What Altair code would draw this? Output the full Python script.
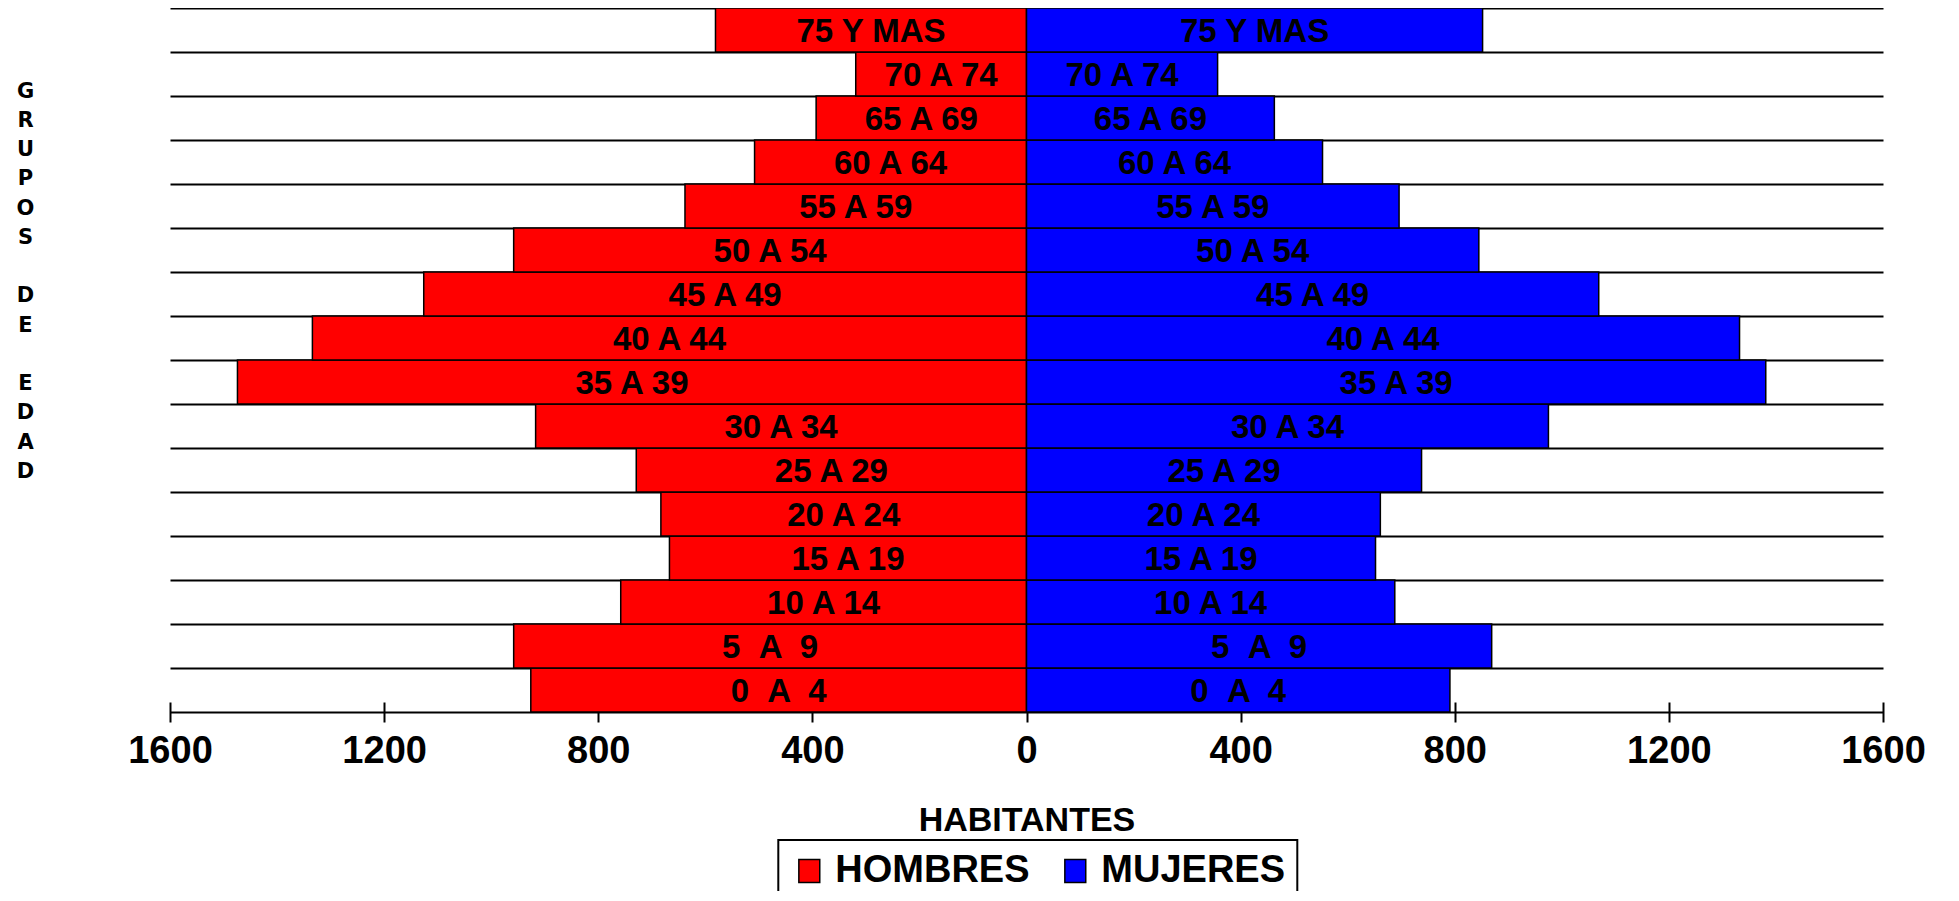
import altair as alt
import pandas as pd

# Age groups, bottom to top
grupos = ["0  A  4", "5  A  9", "10 A 14", "15 A 19", "20 A 24", "25 A 29",
          "30 A 34", "35 A 39", "40 A 44", "45 A 49", "50 A 54", "55 A 59",
          "60 A 64", "65 A 69", "70 A 74", "75 Y MAS"]
hombres = [926, 958, 758, 667, 683, 729, 917, 1474, 1334, 1126, 958, 638, 508, 393, 319, 581]
mujeres = [791, 869, 688, 652, 661, 738, 975, 1381, 1332, 1069, 845, 696, 553, 463, 357, 852]
sexos = ["HOMBRES", "MUJERES"]
colores = ["#FF0000", "#0000FF"]
ticks_x = [-1600, -1200, -800, -400, 0, 400, 800, 1200, 1600]
# vertical axis title, one letter per line (blank lines between words)
titulo_y = ["G", "R", "U", "P", "O", "S", "\u2800", "D", "E", "\u2800", "E", "D", "A", "D"]

rows = []
for i, g in enumerate(grupos):
    label = g.replace("  ", " \u00a0")
    rows.append({"grupo": label, "sexo": sexos[0], "valor": -hombres[i], "i0": i, "i1": i + 1})
    rows.append({"grupo": label, "sexo": sexos[1], "valor": mujeres[i], "i0": i, "i1": i + 1})
df = pd.DataFrame(rows)

FONT = "Liberation Sans"
W, H = 1713, 704

xaxis = alt.Axis(
    values=ticks_x, labelExpr="format(abs(datum.value), 'd')",
    labelFont=FONT, labelFontSize=38, labelFontWeight="bold", labelColor="black",
    labelFlush=False, labelOverlap=False, labelPadding=10,
    tickSize=20, tickColor="black", tickWidth=2, offset=-10,
    domain=False, grid=False,
    title="HABITANTES", titleFont=FONT, titleFontSize=34, titleFontWeight="bold",
    titleColor="black", titleX=W / 2, titleY=118, titleAlign="center",
    titleBaseline="middle",
)
yaxis = alt.Axis(
    values=list(range(len(grupos) + 1)), grid=True, gridColor="black", gridWidth=2,
    gridOpacity=1, labels=False, ticks=False, domain=False,
    title=titulo_y, titleAngle=0, titleFont="DejaVu Sans", titleFontSize=21,
    titleFontWeight="bold", titleColor="black", titleLineHeight=29.26,
    titleX=-145, titleY=72, titleAlign="center", titleBaseline="top",
)
xscale = alt.Scale(domain=[-1600, 1600], nice=False, zero=False)
yscale = alt.Scale(domain=[0, len(grupos)], nice=False, zero=False)

base = alt.Chart(df)

bars = base.mark_rect(stroke="black", strokeWidth=1.5).encode(
    x=alt.X("valor:Q", scale=xscale, axis=xaxis),
    x2=alt.datum(0),
    y=alt.Y("i0:Q", scale=yscale, axis=yaxis),
    y2="i1:Q",
    color=alt.Color(
        "sexo:N",
        scale=alt.Scale(domain=sexos, range=colores),
        legend=alt.Legend(
            orient="none", legendX=608.3, legendY=832, direction="horizontal",
            title=None, labelFont=FONT, labelFontSize=38, labelFontWeight="bold",
            labelColor="black", labelLimit=500,
            symbolType="M-0.9,-1H0.9V1H-0.9Z", symbolSize=540,
            symbolStrokeColor="black", symbolStrokeWidth=1.5, symbolOpacity=1,
            symbolOffset=0, labelOffset=7, columnPadding=26, padding=12,
            strokeColor="black", fillColor="white",
        ),
    ),
)

labels = base.transform_calculate(
    xm="datum.valor / 2", ym="(datum.i0 + datum.i1) / 2"
).mark_text(
    font=FONT, fontSize=33, fontWeight="bold", color="black", baseline="middle",
    align="center", dy=2,
).encode(
    x=alt.X("xm:Q", scale=xscale, axis=xaxis),
    y=alt.Y("ym:Q", scale=yscale, axis=yaxis),
    text="grupo:N",
)

chart = alt.layer(bars, labels).properties(
    width=W, height=H,
    autosize=alt.AutoSizeParams(type="none"),
    padding={"left": 162, "top": 0, "right": 55, "bottom": 179},
).configure_view(stroke=None).configure_legend(strokeWidth=2)

chart.save("out.html", embed_options={"renderer": "svg", "actions": False})
